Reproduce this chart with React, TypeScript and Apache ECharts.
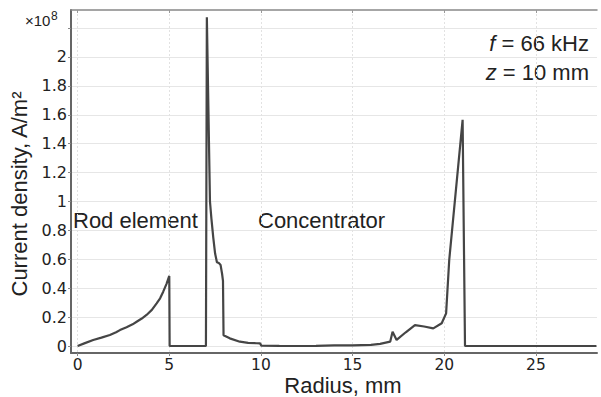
import React, { useEffect, useRef } from "react";
import * as echarts from "echarts";

// Radius, mm
const radius = [
  0, 0.4, 0.85, 1.3, 1.76, 2.1, 2.31, 2.67, 3.0, 3.22, 3.5, 3.76, 4.05, 4.31, 4.5, 4.67, 4.85, 5.0, 5.02,
  6.0, 7.0, 7.05, 7.22, 7.3, 7.4, 7.5, 7.6, 7.7, 7.8, 7.88, 7.93, 7.96, 8.3, 8.85, 9.3, 9.77, 9.95, 10.02,
  11, 12, 13, 14, 15, 16, 16.5, 17.05, 17.18, 17.4, 17.9, 18.4, 18.9, 19.4, 19.86, 20.1, 20.27, 21.0, 21.13,
  22, 25, 28.3,
];
// Current density, ×10^8 A/m²
const density = [
  0, 0.02, 0.042, 0.058, 0.076, 0.095, 0.11, 0.13, 0.15, 0.168, 0.19, 0.215, 0.25, 0.295, 0.33, 0.376, 0.43, 0.485, 0,
  0, 0, 2.275, 1.0, 0.88, 0.75, 0.64, 0.58, 0.575, 0.56, 0.5, 0.45, 0.075, 0.053, 0.03, 0.022, 0.019, 0.018, 0.003,
  0.001, 0.0, 0.001, 0.004, 0.005, 0.008, 0.015, 0.03, 0.099, 0.042, 0.095, 0.145, 0.135, 0.122, 0.157, 0.226, 0.595, 1.565, 0,
  0, 0, 0,
];
const xTicks = [0, 5, 10, 15, 20, 25];
const yGridTicks = [0, 0.2, 0.4, 0.6, 0.8, 1.0, 1.2, 1.4, 1.6, 1.8, 2.0, 2.2];
const yTickLabels = [0, 0.2, 0.4, 0.6, 0.8, 1.0, 1.2, 1.4, 1.6, 1.8, 2.0];

const SANS = "'Liberation Sans', Arial, sans-serif";
const TICKFONT = "'DejaVu Sans', sans-serif";

export default function App() {
  const ref = useRef<HTMLDivElement>(null);
  useEffect(() => {
    if (!ref.current) return;
    const chart = echarts.init(ref.current, null, { renderer: "svg" });
    const data = radius.map((r, i) => [r, density[i]]);
    chart.setOption({
      animation: false,
      backgroundColor: "#ffffff",
      grid: { left: 71, top: 10, right: 4, bottom: 44 },
      xAxis: [
        {
          type: "value",
          min: -0.36,
          max: 28.33,
          position: "bottom",
          axisLine: { show: true, onZero: false, lineStyle: { color: "#666", width: 2 } },
          axisTick: { show: true, inside: false, length: 3, customValues: xTicks, lineStyle: { color: "#888" } },
          axisLabel: {
            customValues: xTicks,
            fontFamily: TICKFONT,
            fontSize: 15.5,
            lineHeight: 12,
            color: "#222",
            margin: 6,
          },
          splitLine: { show: true, lineStyle: { color: "#e2e2e2", type: [2, 2], width: 1 } },
        },
        {
          type: "value",
          min: -0.36,
          max: 28.33,
          position: "top",
          axisLine: { show: true, onZero: false, lineStyle: { color: "#888", width: 1.5 } },
          axisTick: { show: true, inside: true, length: 3, customValues: xTicks, lineStyle: { color: "#999" } },
          axisLabel: { show: false },
          splitLine: { show: false },
        },
      ],
      yAxis: {
        type: "value",
        min: -0.0484,
        max: 2.325,
        axisLine: { show: true, onZero: false, lineStyle: { color: "#666", width: 2 } },
        axisTick: { show: true, length: 3, customValues: yGridTicks, lineStyle: { color: "#888" } },
        axisLabel: {
          customValues: yTickLabels,
          fontFamily: TICKFONT,
          fontSize: 16,
          color: "#222",
          margin: 4,
          formatter: (v: number) => String(+v.toFixed(1)),
        },
        splitLine: { show: true, lineStyle: { color: "#e6e6e6", width: 1 } },
      },
      series: [
        {
          type: "line",
          data,
          xAxisIndex: 0,
          showSymbol: false,
          symbol: "none",
          lineStyle: { color: "#454545", width: 2.2 },
          z: 5,
        },
      ],
      graphic: [
        {
          type: "text",
          x: 25,
          y: 20,
          style: { text: "×10", font: `15px ${SANS}`, fill: "#222", verticalAlign: "middle", align: "left" },
        },
        {
          type: "text",
          x: 51,
          y: 16,
          style: { text: "8", font: `12px ${SANS}`, fill: "#222", verticalAlign: "middle", align: "left" },
        },
        {
          type: "text",
          x: 589,
          y: 43,
          style: {
            text: "{i|f} = 66 kHz",
            font: `22px ${SANS}`,
            fill: "#222",
            align: "right",
            verticalAlign: "middle",
            rich: { i: { fontStyle: "italic", fontSize: 22, fontFamily: SANS, fill: "#222" } },
          },
        },
        {
          type: "text",
          x: 589,
          y: 72,
          style: {
            text: "{i|z} = 10 mm",
            font: `22px ${SANS}`,
            fill: "#222",
            align: "right",
            verticalAlign: "middle",
            rich: { i: { fontStyle: "italic", fontSize: 22, fontFamily: SANS, fill: "#222" } },
          },
        },
        {
          type: "text",
          x: 73,
          y: 220,
          style: { text: "Rod element", font: `22px ${SANS}`, fill: "#222", verticalAlign: "middle", align: "left" },
        },
        {
          type: "text",
          x: 258,
          y: 220,
          style: { text: "Concentrator", font: `22px ${SANS}`, fill: "#222", verticalAlign: "middle", align: "left" },
        },
        {
          type: "text",
          x: 343,
          y: 385,
          style: {
            text: "Radius, mm",
            font: `22px ${SANS}`,
            lineHeight: 17,
            fill: "#222",
            verticalAlign: "middle",
            align: "center",
          },
        },
        {
          type: "text",
          x: 19,
          y: 194,
          rotation: Math.PI / 2,
          style: {
            text: "Current density, A/m²",
            font: `22px ${SANS}`,
            fill: "#222",
            verticalAlign: "middle",
            align: "center",
          },
        },
      ],
    });
    return () => chart.dispose();
  }, []);
  return <div ref={ref} style={{ width: 601, height: 397, position: "absolute", left: 0, top: 0 }} />;
}
